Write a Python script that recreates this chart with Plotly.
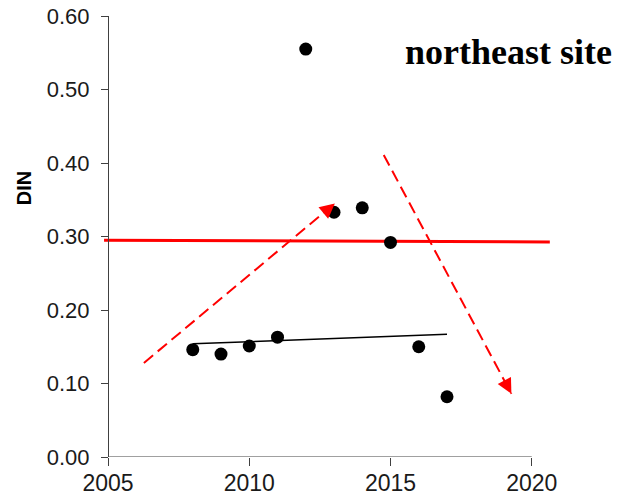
import plotly.graph_objects as go

# ---- data ----
years = [2008, 2009, 2010, 2011, 2012, 2013, 2014, 2015, 2016, 2017]
din = [0.146, 0.140, 0.151, 0.163, 0.555, 0.333, 0.339, 0.292, 0.150, 0.082]

trend_x = [2008, 2017]
trend_y = [0.154, 0.167]

mean_x = [2004.86, 2020.64]
mean_y = [0.295, 0.2925]

arrow_up_x = [2006.27, 2013.03]
arrow_up_y = [0.128, 0.345]
arrow_down_x = [2014.76, 2019.28]
arrow_down_y = [0.411, 0.086]

x_ticks = [2005, 2010, 2015, 2020]
y_ticks = [0.0, 0.1, 0.2, 0.3, 0.4, 0.5, 0.6]

title_text = "northeast site"
y_label = "DIN"

RED = "#FF0000"
AXIS = "#404040"

fig = go.Figure()

fig.add_trace(go.Scatter(x=mean_x, y=mean_y, mode="lines",
                         line=dict(color=RED, width=3), showlegend=False))

for ax_, ay_ in [(arrow_up_x, arrow_up_y), (arrow_down_x, arrow_down_y)]:
    fig.add_trace(go.Scatter(x=ax_, y=ay_, mode="lines",
                             line=dict(color=RED, width=2, dash="12px,6px"),
                             showlegend=False))
    # filled arrow head at the end of the dashed line
    f = 0.05
    tail_x = ax_[1] - f * (ax_[1] - ax_[0])
    tail_y = ay_[1] - f * (ay_[1] - ay_[0])
    fig.add_annotation(x=ax_[1], y=ay_[1], ax=tail_x, ay=tail_y,
                       xref="x", yref="y", axref="x", ayref="y",
                       text="", showarrow=True, arrowhead=2,
                       arrowwidth=1.5, arrowsize=2, arrowcolor=RED)

fig.add_trace(go.Scatter(x=trend_x, y=trend_y, mode="lines",
                         line=dict(color="black", width=1.5), showlegend=False))

fig.add_trace(go.Scatter(x=years, y=din, mode="markers",
                         marker=dict(color="black", size=13, line=dict(width=0)),
                         showlegend=False))

# x axis line only from first to last tick
fig.add_shape(type="line", xref="x", yref="y",
              x0=x_ticks[0], x1=x_ticks[-1], y0=y_ticks[0], y1=y_ticks[0],
              line=dict(color=AXIS, width=1))

fig.add_annotation(text=f"<b>{title_text}</b>", xref="paper", yref="paper",
                   x=0.6557, y=0.918, xanchor="left", yanchor="middle",
                   showarrow=False,
                   font=dict(family="Liberation Serif", size=36, color="black"))

fig.add_annotation(text=f"<b>{y_label}</b>", xref="paper", yref="paper",
                   x=-0.175, y=0.61, xanchor="center", yanchor="middle",
                   textangle=-90, showarrow=False,
                   font=dict(family="Liberation Sans", size=20, color="black"))

fig.update_layout(
    width=622, height=497,
    margin=dict(l=96, r=70, t=8, b=48, autoexpand=False),
    paper_bgcolor="white", plot_bgcolor="white",
    font=dict(family="Liberation Sans", size=21, color="#1a1a1a"),
    xaxis=dict(range=[2004.858, 2021.0], tickvals=x_ticks, automargin=False,
               showline=False, showgrid=False, zeroline=False,
               ticks="outside", ticklen=8, tickcolor=AXIS, tickwidth=1,
               ticklabelstandoff=-3, ticklabeloverflow="allow",
               tickfont=dict(size=23)),
    yaxis=dict(range=[0, 0.6], tickvals=y_ticks, tickformat=".2f",
               anchor="free", position=0.00877, automargin=False,
               showline=True, linecolor=AXIS, linewidth=1,
               showgrid=False, zeroline=False,
               ticks="outside", ticklen=7, tickcolor=AXIS, tickwidth=1,
               ticklabelstandoff=7, ticklabeloverflow="allow",
               tickfont=dict(size=22)),
)

fig.write_html("out.html")
